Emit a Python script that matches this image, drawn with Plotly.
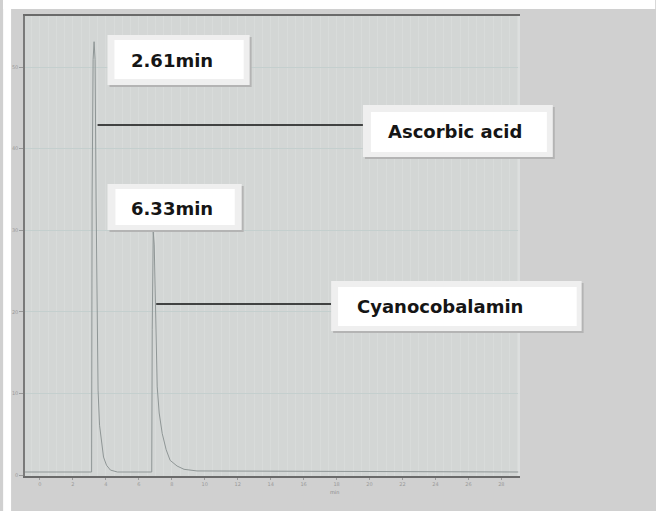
import plotly.graph_objects as go

# Chromatogram trace (x in axis units, y in detector units)
time_min = [-0.9, 3.0, 3.136, 3.166, 3.227, 3.287, 3.347, 3.408, 3.468, 3.528, 3.619, 3.739,
            3.860, 4.041, 4.282, 4.704, 6.5, 6.785, 6.815, 6.846, 6.876, 6.936, 6.996,
            7.057, 7.117, 7.238, 7.419, 7.660, 7.901, 8.323, 8.745, 9.530, 29.1]
signal = [0.37, 0.37, 0.37, 33.7, 50.9, 53.1, 50.9, 33.7, 17.8, 10.4, 6.1, 3.7,
          2.2, 1.2, 0.6, 0.37, 0.37, 0.37, 17.8, 28.8, 29.8, 28.2, 21.4,
          15.3, 10.8, 7.6, 5.1, 3.1, 1.8, 1.1, 0.7, 0.5, 0.37]

x_ticks = [0, 2, 4, 6, 8, 10, 12, 14, 16, 18, 20, 22, 24, 26, 28]
x_tick_labels = [str(v) for v in x_ticks]
y_ticks = [0, 10, 20, 30, 40, 50]
y_tick_labels = [str(v) for v in y_ticks]

peak_labels = ["2.61min", "6.33min"]
compound_labels = ["Ascorbic acid", "Cyanocobalamin"]

W, H = 656, 511
L, R, T, B = 22, 520, 16, 476


def px(xp):
    return (xp - L) / (R - L)


def py(yp):
    return (B - yp) / (B - T)


fig = go.Figure()
fig.add_trace(go.Scatter(x=time_min, y=signal, mode="lines",
                         line=dict(color="#8f9696", width=1), hoverinfo="skip",
                         showlegend=False))

shapes = []
# white strips at top and left of the picture
shapes.append(dict(type="rect", xref="paper", yref="paper", x0=px(0), x1=px(W), y0=py(0), y1=py(9),
                   fillcolor="white", line=dict(width=0), layer="below"))
shapes.append(dict(type="rect", xref="paper", yref="paper", x0=px(0), x1=px(8), y0=py(0), y1=py(H),
                   fillcolor="white", line=dict(width=0), layer="below"))
# light right edge of plot
shapes.append(dict(type="line", xref="paper", yref="paper", x0=px(519), x1=px(519), y0=py(476), y1=py(16),
                   line=dict(color="#e0e2e2", width=1.5)))


def box(x0, y0, x1, y1, ix0, iy0, ix1, iy1):
    # shadow
    shapes.append(dict(type="rect", xref="paper", yref="paper", x0=px(x0 + 2), x1=px(x1 + 2),
                       y0=py(y0 + 2), y1=py(y1 + 2), fillcolor="#b4b4b4", line=dict(width=0)))
    shapes.append(dict(type="rect", xref="paper", yref="paper", x0=px(x0), x1=px(x1),
                       y0=py(y0), y1=py(y1), fillcolor="#efefef", line=dict(width=0)))
    shapes.append(dict(type="rect", xref="paper", yref="paper", x0=px(ix0), x1=px(ix1),
                       y0=py(iy0), y1=py(iy1), fillcolor="#ffffff", line=dict(width=0)))


# leader lines
shapes.append(dict(type="line", xref="paper", yref="paper", x0=px(95), x1=px(362), y0=py(125), y1=py(125),
                   line=dict(color="#111111", width=1.5)))
shapes.append(dict(type="line", xref="paper", yref="paper", x0=px(154), x1=px(330), y0=py(304), y1=py(304),
                   line=dict(color="#111111", width=1.5)))

box(105, 35, 248, 85, 112, 40, 242, 79)
box(362, 105, 553, 157, 370, 112, 547, 152)
box(105, 184, 240, 230, 113, 189, 233, 225)
box(330, 281, 582, 331, 337, 287, 577, 326)

annotations = []
font = dict(family="DejaVu Sans", size=18, color="#151515")
for text, (cx, cy) in zip(peak_labels + compound_labels, [(170, 60), (170, 208), (455, 131), (440, 306)]):
    annotations.append(dict(text="<b>%s</b>" % text, xref="paper", yref="paper", x=px(cx), y=py(cy),
                            xanchor="center", yanchor="middle", showarrow=False, font=font))
annotations.append(dict(text="min", xref="paper", yref="paper", x=px(333), y=py(497), showarrow=False,
                        font=dict(family="DejaVu Sans", size=5, color="#8a8a8a")))

fig.update_layout(
    width=W, height=H,
    margin=dict(l=L, r=W - R, t=T, b=H - B, pad=0),
    paper_bgcolor="#d0d0d0",
    plot_bgcolor="#d3d6d5",
    shapes=shapes,
    annotations=annotations,
    xaxis=dict(range=[-0.905, 29.13], tickvals=x_ticks, ticktext=x_tick_labels,
               showgrid=False, zeroline=False, showline=True, linecolor="#6a6a6a", linewidth=1.5,
               mirror=True, ticks="outside", ticklen=2, tickcolor="#9a9a9a",
               tickfont=dict(family="DejaVu Sans", size=5, color="#9a9a9a"),
               minor=dict(dtick=0.5, showgrid=True, gridcolor="#d8dbda", gridwidth=1)),
    yaxis=dict(range=[-0.12, 56.25], tickvals=y_ticks, ticktext=y_tick_labels,
               showgrid=True, gridcolor="#c4cfce", gridwidth=1, zeroline=False,
               showline=True, linecolor="#7a7a7a", linewidth=1.5,
               ticks="outside", ticklen=4, tickcolor="#9a9a9a",
               tickfont=dict(family="DejaVu Sans", size=5, color="#9a9a9a")),
)

fig.write_html("out.html")
